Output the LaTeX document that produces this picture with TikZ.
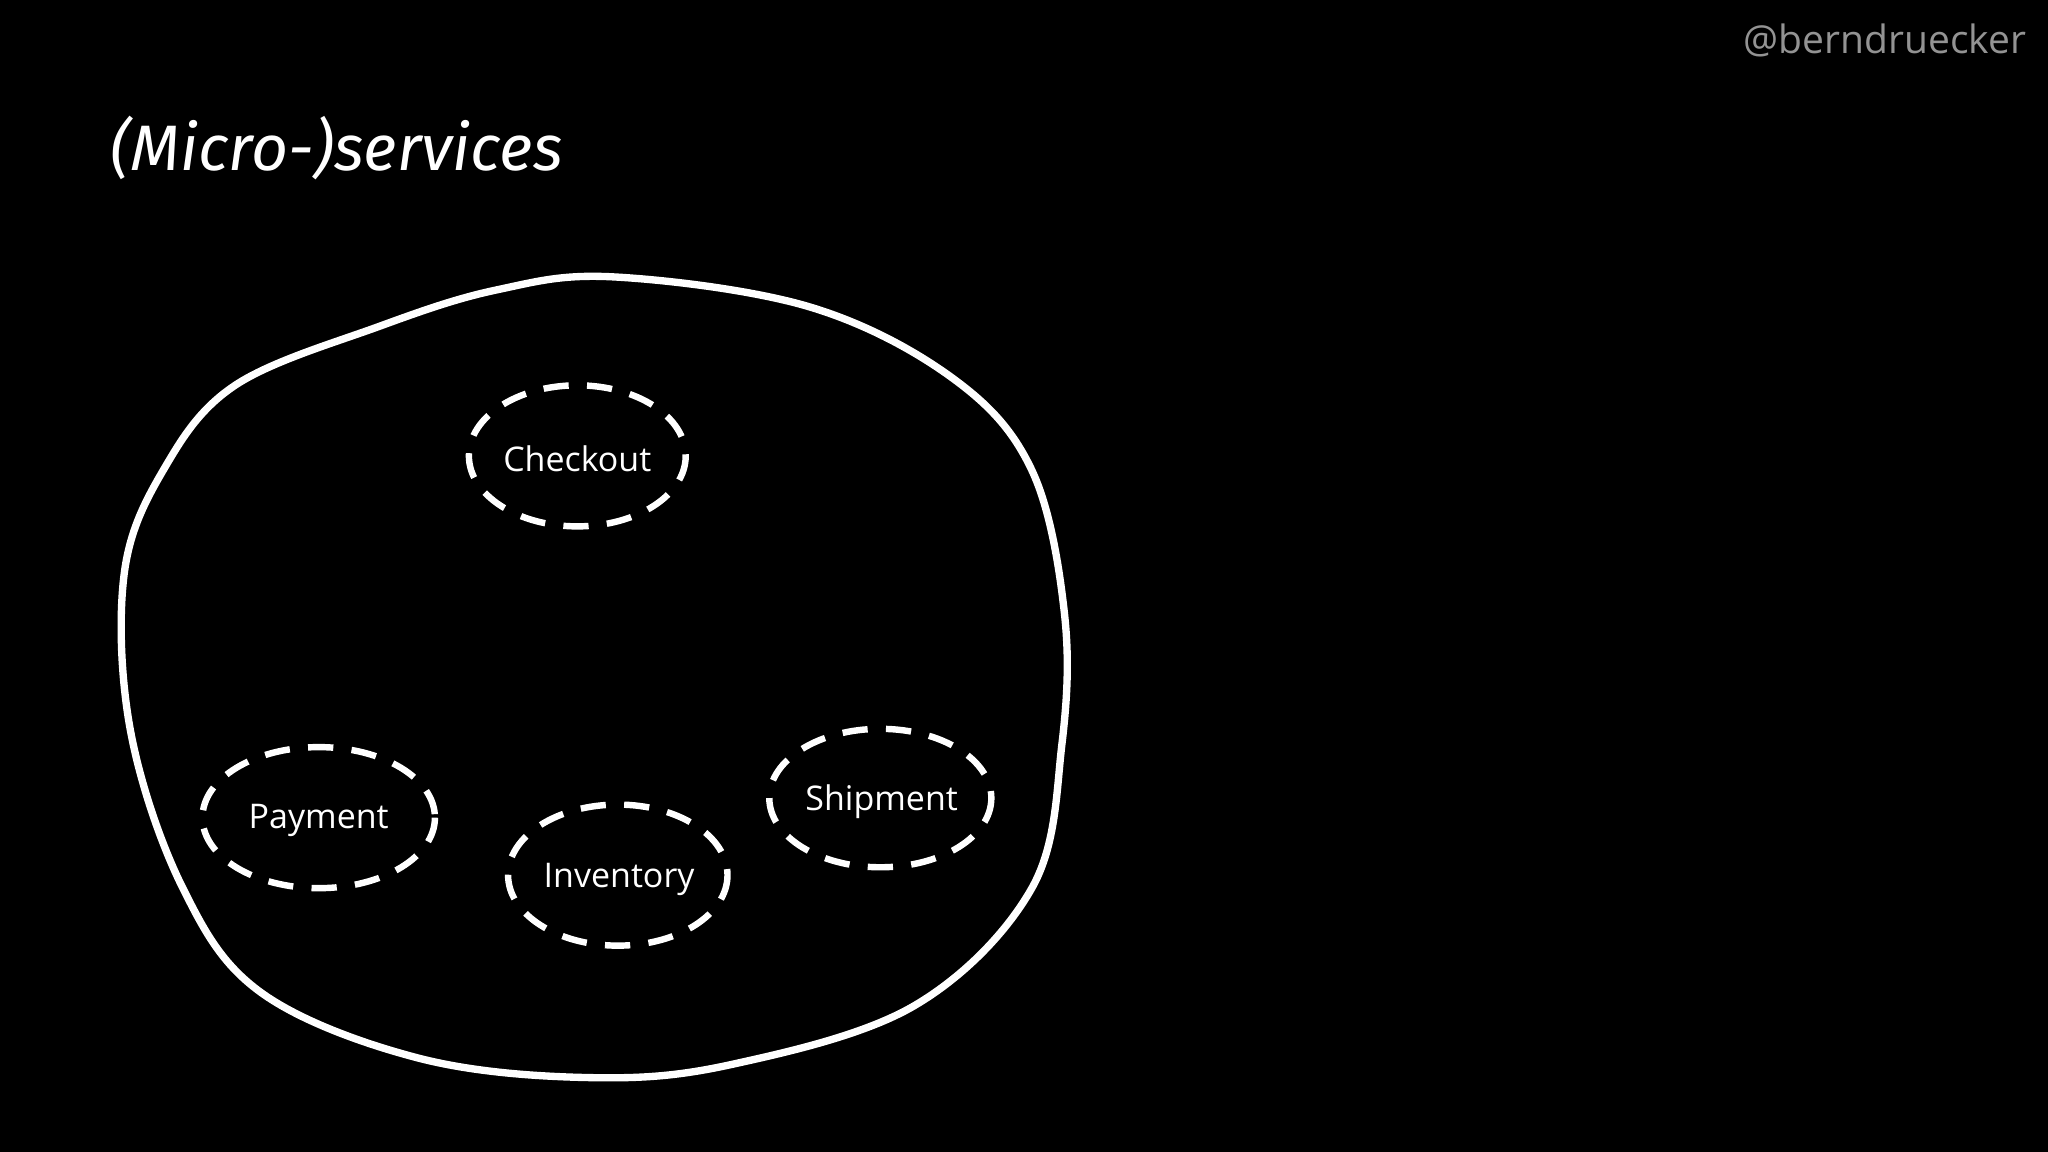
\documentclass[tikz,border=0pt]{standalone}
\usepackage{fontspec}
\setmainfont{Open Sans}
\newfontfamily\titlefont{Fira Sans}
\begin{document}
\begin{tikzpicture}[x=0.1mm,y=-0.1mm,
  svcline/.style={white,line width=1.4pt,dash pattern=on 5.5pt off 4pt},
  lbl/.style={text=white,font=\fontsize{7.4}{9}\selectfont}]
\fill[black] (0,0) rectangle (1568,882);
\useasboundingbox (0,0) rectangle (1568,882);
\node[anchor=east,text=gray!85,font=\fontsize{8.5}{10}\selectfont,inner sep=0pt] (tag) at (1552,31) {@berndruecker};
\node[anchor=west,text=white,font=\titlefont\itshape\fontsize{14}{17}\selectfont] (title) at (72,113) {(Micro-)services};
\draw[white,line width=1.6pt] plot[smooth cycle,tension=0.6] coordinates {
 (470,212) (620,235) (730,290) (790,360) (815,470) (813,570) (790,680) (700,770) (560,815) (450,825) (320,810) (200,760) (140,680) (100,560) (95,440) (125,360) (180,295) (290,250) (380,222)};
\draw[svcline] (442,349) ellipse (83 and 54);
\draw[svcline] (244,626) ellipse (89 and 54);
\draw[svcline] (473,670) ellipse (84 and 54);
\draw[svcline] (674,611) ellipse (85 and 53);
\node[lbl] (checkout) at (442,351) {Checkout};
\node[lbl] (payment) at (244,628) {Payment};
\node[lbl] (inventory) at (474,673) {Inventory};
\node[lbl] (shipment) at (675,614) {Shipment};
\end{tikzpicture}
\end{document}
